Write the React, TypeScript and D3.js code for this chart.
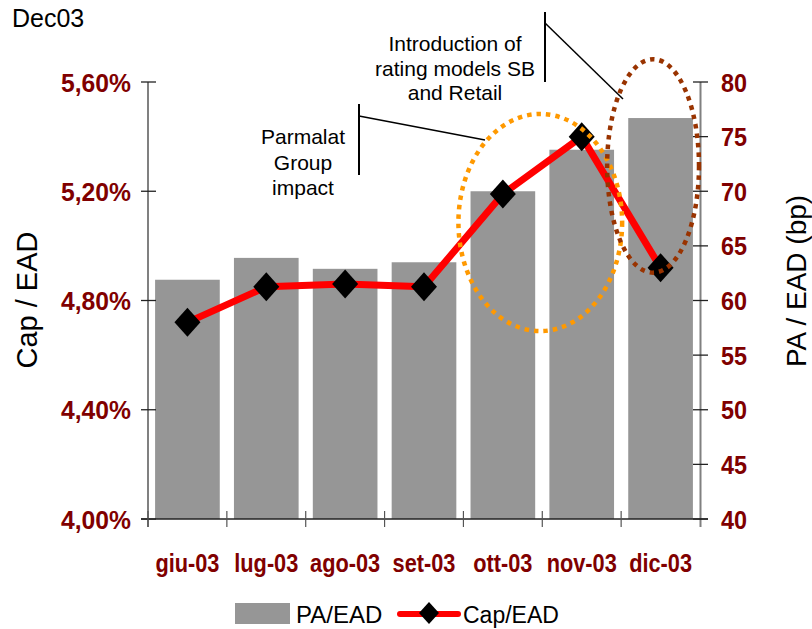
import React from "react";
import * as d3 from "d3";

const months = ["giu-03", "lug-03", "ago-03", "set-03", "ott-03", "nov-03", "dic-03"];
const paEad = [61.9, 63.9, 62.9, 63.5, 70.0, 73.8, 76.7];
const capEad = [4.72, 4.85, 4.86, 4.85, 5.19, 5.4, 4.92];
const leftTicks = [4.0, 4.4, 4.8, 5.2, 5.6];
const rightTicks = [40, 45, 50, 55, 60, 65, 70, 75, 80];
const title = "Dec03";
const leftTitle = "Cap / EAD";
const rightTitle = "PA / EAD (bp)";
const barName = "PA/EAD";
const lineName = "Cap/EAD";
const note1 = ["Introduction of", "rating models SB", "and Retail"];
const note2 = ["Parmalat", "Group", "impact"];

const FONT = "'Liberation Sans', Arial, sans-serif";
const RED = "#800000";

export default function App() {
  const W = 812, H = 629;
  const x = d3.scaleBand<string>().domain(months).range([148, 700]).paddingInner(0).paddingOuter(0);
  const yL = d3.scaleLinear().domain([4.0, 5.6]).range([519, 82]);
  const yR = d3.scaleLinear().domain([40, 80]).range([519, 82]);
  const bw = x.bandwidth();
  const barW = bw * 0.82;
  const cx = (m: string) => (x(m) as number) + bw / 2;
  const fmtL = (v: number) => d3.format(".2f")(v).replace(".", ",") + "%";

  const linePath = d3
    .line<number>()
    .x((_, i) => cx(months[i]))
    .y((d) => yL(d))(capEad) as string;

  const diamond = (px: number, py: number, hw: number, hh: number) =>
    `M${px},${py - hh}L${px + hw},${py}L${px},${py + hh}L${px - hw},${py}Z`;

  // annotation ellipses derived from scales
  const oLeft = (x(months[4]) as number) - 5;
  const oRight = (x(months[5]) as number) + bw + 1;
  const oTop = yL(5.483);
  const oBot = yL(4.688);
  const bLeft = (x(months[6]) as number) - 14;
  const bRight = (x(months[6]) as number) + bw - 1;
  const bTop = yR(82.08);
  const bBot = yR(62.55);

  return (
    <svg width={W} height={H} style={{ position: "absolute", left: 0, top: 0, background: "#fff" }} fontFamily={FONT}>
      <text x={12} y={27} fontSize={25} fill="#000">{title}</text>

      {/* bars */}
      {months.map((m, i) => (
        <rect key={m} x={cx(m) - barW / 2} y={yR(paEad[i])} width={barW} height={yR(40) - yR(paEad[i])} fill="#969696" />
      ))}

      {/* left axis */}
      <line x1={148} x2={148} y1={yL(5.6)} y2={527} stroke="#808080" strokeWidth={2} />
      {leftTicks.map((t) => (
        <g key={t}>
          <line x1={141} x2={156} y1={yL(t)} y2={yL(t)} stroke="#222" strokeWidth={1.3} />
          <g transform={`translate(131,${yL(t) + 9.5}) scale(0.95,1)`}>
            <text textAnchor="end" fontSize={26} fontWeight="bold" fill={RED}>{fmtL(t)}</text>
          </g>
        </g>
      ))}

      {/* right axis */}
      <line x1={700.5} x2={700.5} y1={yR(80)} y2={527} stroke="#808080" strokeWidth={2} />
      {rightTicks.map((t) => (
        <g key={t}>
          <line x1={693} x2={708} y1={yR(t)} y2={yR(t)} stroke="#222" strokeWidth={1.3} />
          <g transform={`translate(721,${yR(t) + 9.5}) scale(0.9,1)`}>
            <text textAnchor="start" fontSize={26} fontWeight="bold" fill={RED}>{t}</text>
          </g>
        </g>
      ))}

      {/* x axis */}
      <line x1={141} x2={708} y1={519} y2={519} stroke="#222" strokeWidth={1.3} />
      {months.map((m) => (
        <line key={"t" + m} x1={x(m) as number} x2={x(m) as number} y1={511} y2={527} stroke="#555" strokeWidth={1.2} />
      ))}
      {months.map((m) => (
        <g key={"l" + m} transform={`translate(${cx(m)},572) scale(0.87,1)`}>
          <text textAnchor="middle" fontSize={25} fontWeight="bold" fill={RED}>{m}</text>
        </g>
      ))}

      {/* axis titles */}
      <text transform={`translate(37,300) rotate(-90)`} textAnchor="middle" fontSize={29} fill="#000">{leftTitle}</text>
      <text transform={`translate(806,281) rotate(-90)`} textAnchor="middle" fontSize={28} fill="#000">{rightTitle}</text>

      {/* annotation 1 */}
      <line x1={545} x2={545} y1={12} y2={82} stroke="#000" strokeWidth={2} />
      <line x1={545} x2={623} y1={23} y2={99} stroke="#000" strokeWidth={1.5} />
      {note1.map((s, i) => (
        <text key={s} x={455} y={51 + i * 24.5} textAnchor="middle" fontSize={21} fill="#000">{s}</text>
      ))}
      {/* annotation 2 */}
      <line x1={359} x2={359} y1={104} y2={175} stroke="#000" strokeWidth={2} />
      <line x1={359} x2={485} y1={116} y2={140} stroke="#000" strokeWidth={1.5} />
      {note2.map((s, i) => (
        <text key={s} x={303} y={144 + i * 25.5} textAnchor="middle" fontSize={21} fill="#000">{s}</text>
      ))}

      {/* line series */}
      <path d={linePath} fill="none" stroke="#ff0000" strokeWidth={7} strokeLinejoin="round" />
      {capEad.map((v, i) => (
        <path key={i} d={diamond(cx(months[i]), yL(v), 13, 14.5)} fill="#000" />
      ))}

      {/* ellipses */}
      <ellipse cx={(oLeft + oRight) / 2} cy={(oTop + oBot) / 2} rx={(oRight - oLeft) / 2} ry={(oBot - oTop) / 2}
        fill="none" stroke="#ff9900" strokeWidth={4.5} strokeDasharray="4.5 5" />
      <ellipse cx={(bLeft + bRight) / 2} cy={(bTop + bBot) / 2} rx={(bRight - bLeft) / 2} ry={(bBot - bTop) / 2}
        fill="none" stroke="#993300" strokeWidth={4.5} strokeDasharray="4.5 5" />

      {/* legend */}
      <rect x={235} y={603} width={55} height={21} fill="#969696" />
      <text x={296} y={623} fontSize={24} fill="#000">{barName}</text>
      <line x1={400} x2={458} y1={614} y2={614} stroke="#ff0000" strokeWidth={6} strokeLinecap="round" />
      <path d={diamond(429, 613, 10, 11)} fill="#000" />
      <text x={463} y={623} fontSize={23} fill="#000">{lineName}</text>
    </svg>
  );
}
